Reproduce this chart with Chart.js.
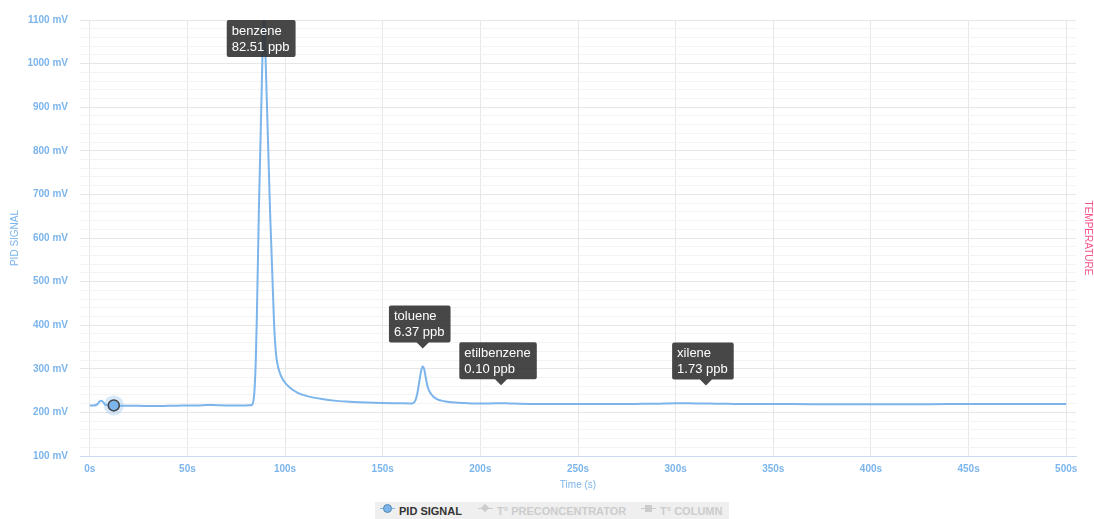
<!DOCTYPE html>
<html>
<head>
<meta charset="utf-8">
<script src="https://cdn.jsdelivr.net/npm/chart.js@4.4.1/dist/chart.umd.min.js"></script>
<style>
  html, body { margin: 0; padding: 0; background: #ffffff; }
  #wrap { position: relative; width: 1094px; height: 519px; }
  #legend {
    position: absolute; left: 375px; top: 502px; width: 354px; height: 17px;
    background: #efefef; font-family: 'Liberation Sans', Arial, sans-serif;
    font-size: 11px; font-weight: bold; white-space: nowrap;
  }
  .item { position: absolute; top: 3px; line-height: 13px; }
  .mk { position: absolute; top: 6px; height: 1px; width: 15px; }
  .dot { position: absolute; }
</style>
</head>
<body>
<div id="wrap">
  <canvas id="c"></canvas>
  <div id="legend">
    <div class="mk" style="left:5px;background:#7cb5ec;"></div>
    <div class="dot" style="left:8px;top:2px;border-radius:50%;background:#7cb5ec;border:1px solid #5a86b0;box-sizing:border-box;width:9px;height:9px;"></div>
    <div class="item" style="left:24px;color:#333333;">PID SIGNAL</div>
    <div class="mk" style="left:103px;background:#cccccc;"></div>
    <div class="dot" style="left:107px;top:3px;width:6px;height:6px;background:#cccccc;transform:rotate(45deg);"></div>
    <div class="item" style="left:122px;color:#cccccc;">T° PRECONCENTRATOR</div>
    <div class="mk" style="left:266px;background:#cccccc;"></div>
    <div class="dot" style="left:270px;top:3px;width:7px;height:7px;background:#cccccc;"></div>
    <div class="item" style="left:285px;color:#cccccc;">T° COLUMN</div>
  </div>
</div>
<script>
// ---- data ----
const timeS = [0, 2, 4, 5, 6, 7, 8, 10, 12.3, 16, 20, 25, 30, 35, 40, 45, 50, 55, 60, 65, 70, 75, 80, 82, 83, 83.5, 84, 84.5, 85, 85.5, 86.6, 88.5, 89.3, 89.9, 92.3, 94.3, 94.9, 95.6, 96.5, 97.7, 99.2, 101, 103.5, 106.5, 110, 114, 119, 125, 133, 142, 150, 158, 164, 165.5, 166.8, 167.8, 168.8, 169.7, 170.5, 171.3, 172.2, 173.2, 174.5, 176, 178, 180, 183, 187, 192, 200, 205, 210, 215, 220, 230, 240, 250, 260, 270, 280, 290, 300, 305, 310, 315, 320, 330, 340, 350, 360, 380, 400, 420, 440, 460, 480, 500];
const pidSignal = [216, 216, 219, 225, 227, 223, 217.5, 216.5, 216, 215.5, 215, 215, 214.5, 214.5, 215, 215.5, 216, 216, 217, 216.5, 216, 216, 216, 216.5, 217, 221, 232, 262, 317, 407, 664, 1031, 1146, 1031, 664, 412, 360, 325, 303, 286, 273, 263, 253, 245, 239, 234.5, 230.5, 227, 224.5, 222.5, 221.5, 221, 220.5, 221, 228, 245, 272, 296, 305, 298, 276, 256, 244, 236, 230, 227, 224.5, 222.5, 221.5, 220.5, 220.5, 221, 220.5, 220, 219.5, 219.5, 219, 219, 219, 219.5, 220, 221, 221, 220.5, 220.5, 220, 219.5, 219, 219, 219, 218.5, 218.5, 218.5, 219, 219, 219, 219.5];
const markerTime = 12.3;

const peakNames = ['benzene', 'toluene', 'etilbenzene', 'xilene'];
const peakConc = ['82.51 ppb', '6.37 ppb', '0.10 ppb', '1.73 ppb'];
const peakTimes = [89.3, 170.5, 210.6, 315.5];

const xTickStep = 50;
const yTickStep = 20;
const yMin = 100, yMax = 1100;
const xMin = -5, xMax = 505;

// ---- helpers ----
function valueAt(t) {
  for (let i = 0; i < timeS.length - 1; i++) {
    if (t >= timeS[i] && t <= timeS[i + 1]) {
      const f = (t - timeS[i]) / (timeS[i + 1] - timeS[i]);
      return pidSignal[i] + f * (pidSignal[i + 1] - pidSignal[i]);
    }
  }
  return pidSignal[pidSignal.length - 1];
}
const pidPoints = timeS.map((t, i) => ({ x: t, y: pidSignal[i] }));
const markerIndex = timeS.indexOf(markerTime);

const FONT = "'Liberation Sans', Arial, sans-serif";
const BLUE = '#7cb5ec';

const peakLabels = {
  id: 'peakLabels',
  afterDraw(chart) {
    const ctx = chart.ctx;
    const xs = chart.scales.x, ys = chart.scales.y;
    const area = chart.chartArea;
    ctx.save();
    ctx.font = '13px ' + FONT;
    peakTimes.forEach((t, i) => {
      const px = xs.getPixelForValue(t);
      const py = ys.getPixelForValue(valueAt(t));
      const l1 = peakNames[i], l2 = peakConc[i];
      const w = Math.max(ctx.measureText(l1).width, ctx.measureText(l2).width) + 11;
      const h = 37;
      let bx = px - w / 2 - 3;
      let by = py - 24 - h;
      let caret = true;
      if (by < area.top) { by = area.top; caret = false; }
      ctx.fillStyle = 'rgba(45,45,45,0.88)';
      ctx.beginPath();
      const r = 2;
      ctx.moveTo(bx + r, by);
      ctx.lineTo(bx + w - r, by);
      ctx.quadraticCurveTo(bx + w, by, bx + w, by + r);
      ctx.lineTo(bx + w, by + h - r);
      ctx.quadraticCurveTo(bx + w, by + h, bx + w - r, by + h);
      if (caret) {
        ctx.lineTo(px + 6, by + h);
        ctx.lineTo(px, by + h + 6);
        ctx.lineTo(px - 6, by + h);
      }
      ctx.lineTo(bx + r, by + h);
      ctx.quadraticCurveTo(bx, by + h, bx, by + h - r);
      ctx.lineTo(bx, by + r);
      ctx.quadraticCurveTo(bx, by, bx + r, by);
      ctx.closePath();
      ctx.fill();
      ctx.fillStyle = '#ffffff';
      ctx.textBaseline = 'middle';
      ctx.textAlign = 'left';
      ctx.fillText(l1, bx + 5, by + 11);
      ctx.fillText(l2, bx + 5, by + 27);
    });
    ctx.restore();
  }
};

new Chart(document.getElementById('c'), {
  type: 'line',
  data: {
    datasets: [
      {
        label: 'PID SIGNAL',
        data: pidPoints,
        borderColor: BLUE,
        backgroundColor: BLUE,
        borderWidth: 2,
        cubicInterpolationMode: 'monotone',
        pointRadius: (c) => (c.dataIndex === markerIndex ? 5.5 : 0),
        pointBackgroundColor: BLUE,
        pointBorderColor: '#444444',
        pointBorderWidth: 1.5,
        yAxisID: 'y'
      },
      {
        label: 'halo',
        data: [{ x: markerTime, y: pidSignal[markerIndex] }],
        showLine: false,
        pointRadius: 10,
        pointBackgroundColor: 'rgba(124,181,236,0.3)',
        pointBorderWidth: 0,
        yAxisID: 'y'
      },
      { label: 'T° PRECONCENTRATOR', data: [], hidden: true, yAxisID: 'y2' },
      { label: 'T° COLUMN', data: [], hidden: true, yAxisID: 'y2' }
    ]
  },
  options: {
    responsive: true,
    maintainAspectRatio: false,
    animation: false,
    events: [],
    layout: { padding: { top: 20, left: 0, right: 0, bottom: 23 } },
    plugins: { legend: { display: false }, tooltip: { enabled: false } },
    scales: {
      x: {
        type: 'linear',
        min: xMin, max: xMax,
        afterFit: (s) => { s.height = 40; },
        border: { display: true, color: '#c9d9f0', width: 1 },
        grid: { color: '#e8e8e8', drawTicks: false },
        ticks: {
          stepSize: xTickStep, includeBounds: false, padding: 7,
          color: BLUE, font: { family: FONT, size: 10, weight: 'bold' },
          maxRotation: 0, autoSkip: false,
          callback: (v) => v + 's'
        },
        title: { display: true, text: 'Time (s)', color: BLUE, font: { family: FONT, size: 10 }, padding: { top: 0, bottom: 5 } }
      },
      y: {
        position: 'left',
        min: yMin, max: yMax,
        afterFit: (s) => { s.width = 80; },
        border: { display: false },
        grid: {
          drawTicks: false,
          color: (c) => (c.tick && c.tick.value % 100 === 0 ? '#e6e6e6' : '#f3f3f3')
        },
        ticks: {
          stepSize: yTickStep, autoSkip: false, padding: 12,
          color: BLUE, font: { family: FONT, size: 10, weight: 'bold' },
          callback: (v) => (v % 100 === 0 ? v + ' mV' : '')
        },
        title: { display: true, text: 'PID SIGNAL', color: BLUE, font: { family: FONT, size: 10 }, padding: { top: 9, bottom: 0 } }
      },
      y2: {
        position: 'right',
        display: true,
        afterFit: (s) => { s.width = 18; },
        border: { display: false },
        grid: { display: false, drawOnChartArea: false },
        ticks: { display: false },
        title: { display: true, text: 'TEMPERATURE', color: '#f4568c', font: { family: FONT, size: 10 }, padding: { top: 0, bottom: 0 } }
      }
    }
  },
  plugins: [peakLabels]
});
</script>
</body>
</html>
